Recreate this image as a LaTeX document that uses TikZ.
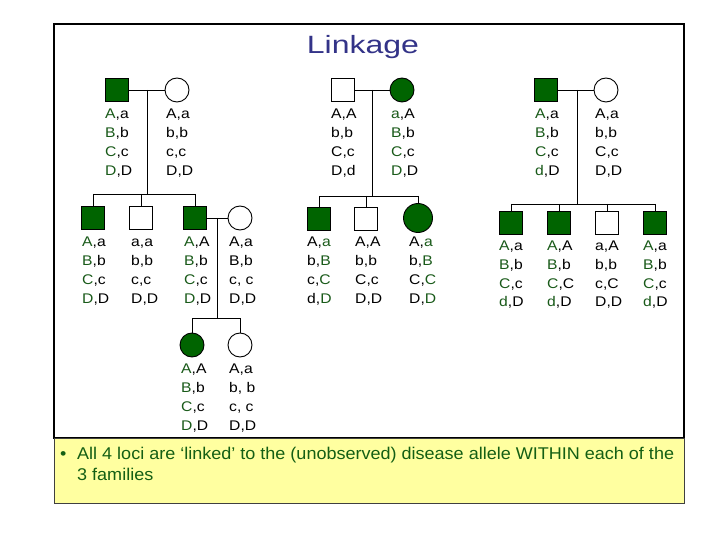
\documentclass[tikz,border=0pt]{standalone}
\usepackage{fontspec}
\setmainfont{Liberation Sans}
\newfontfamily\lblfont{Liberation Sans}[FakeStretch=1.12]
\newfontfamily\ttlfont{Liberation Sans}[FakeStretch=1.28]
\newfontfamily\notefont{Liberation Sans}[FakeStretch=1.06]
\definecolor{dkfill}{RGB}{0,100,0}
\definecolor{dktxt}{RGB}{25,90,25}
\definecolor{ttlblue}{RGB}{51,51,136}
\definecolor{notebg}{RGB}{255,255,160}
\definecolor{notetxt}{RGB}{20,95,20}
\newcommand{\grn}[1]{\textcolor{dktxt}{#1}}
\newcommand{\geno}[4]{\vtop{\hbox{#1}\hbox{#2}\hbox{#3}\hbox{#4}}}
\begin{document}
\begin{tikzpicture}[x=1pt,y=-1pt,
  lbl/.style={font=\lblfont\fontsize{14}{19}\selectfont, inner sep=0, anchor=base west},
  sq/.style={rectangle, draw, line width=0.9pt, minimum size=23.5, inner sep=0},
  ci/.style={circle, draw, line width=0.9pt, minimum size=24, inner sep=0},
  aff/.style={fill=dkfill},
  ln/.style={line width=0.9pt}]
\useasboundingbox (0,0) rectangle (720,540);
\fill[white] (0,0) rectangle (720,540);
% frame and note box
\draw[line width=1.3pt] (54,24) rectangle (684,438);
\node (title) [font=\ttlfont\fontsize{25}{30}\selectfont, text=ttlblue, anchor=base, inner sep=0] at (363,54) {Linkage};
\draw[fill=notebg, draw=black!75, line width=1pt] (54,438) rectangle (684,503);
\node (bul) [font=\notefont\fontsize{17}{21}\selectfont, text=notetxt, anchor=base west, inner sep=0] at (60,459) {\textbullet};
\node (note) [font=\notefont\fontsize{17}{21}\selectfont, text=notetxt, anchor=base west, inner sep=0] at (77,459) {\vtop{\hbox{All 4 loci are ‘linked’ to the (unobserved) disease allele WITHIN each of the}\hbox{3 families}}};

% ---------- Family 1 ----------
\node (f1p) [sq, aff] at (117,90) {};
\node (f1m) [ci] at (177,90) {};
\node (c11) [sq, aff] at (93,218) {};
\node (c12) [sq] at (141,218) {};
\node (c13) [sq, aff] at (195,218) {};
\node (s13) [ci] at (240,218) {};
\node (g1) [ci, aff] at (192,345) {};
\node (g2) [ci] at (240,345) {};
\coordinate (j1) at (147,90);
\coordinate (b1) at (147,194);
\coordinate (b1l) at (93,194);
\coordinate (b1r) at (195,194);
\coordinate (j2) at (217,218);
\coordinate (b2) at (217,318);
\coordinate (b2l) at (192,318);
\coordinate (b2r) at (240,318);
\draw[ln] (f1p.east) -- (f1m.west);
\draw[ln] (j1) -- (b1);
\draw[ln] (b1l) -- (b1r);
\draw[ln] (b1l) -- (c11.north);
\draw[ln] (c12.north |- b1) -- (c12.north);
\draw[ln] (b1r) -- (c13.north);
\draw[ln] (c13.east) -- (s13.west);
\draw[ln] (j2) -- (b2);
\draw[ln] (b2l) -- (b2r);
\draw[ln] (b2l) -- (g1.north);
\draw[ln] (b2r) -- (g2.north);
\node (t1p) [lbl] at (105,119) {\geno{\grn{A},a}{\grn{B},b}{\grn{C},c}{\grn{D},D}};
\node (t1m) [lbl] at (166,119) {\geno{A,a}{b,b}{c,c}{D,D}};
\node (t11) [lbl] at (82,246) {\geno{\grn{A},a}{\grn{B},b}{\grn{C},c}{\grn{D},D}};
\node (t12) [lbl] at (131,246) {\geno{a,a}{b,b}{c,c}{D,D}};
\node (t13) [lbl] at (184,246) {\geno{\grn{A},A}{\grn{B},b}{\grn{C},c}{\grn{D},D}};
\node (t1s) [lbl] at (229,246) {\geno{A,a}{B,b}{c, c}{D,D}};
\node (tg1) [lbl] at (181,373) {\geno{\grn{A},A}{\grn{B},b}{\grn{C},c}{\grn{D},D}};
\node (tg2) [lbl] at (229,373) {\geno{A,a}{b, b}{c, c}{D,D}};

% ---------- Family 2 ----------
\node (f2p) [sq] at (343,90) {};
\node (f2m) [ci, aff] at (402,90) {};
\node (c21) [sq, aff] at (319,219) {};
\node (c22) [sq] at (366,219) {};
\node (c23) [ci, aff, minimum size=29] at (418,218) {};
\coordinate (j3) at (372,90);
\coordinate (b3) at (372,196);
\coordinate (b3l) at (319,196);
\coordinate (b3r) at (418,196);
\draw[ln] (f2p.east) -- (f2m.west);
\draw[ln] (j3) -- (b3);
\draw[ln] (b3l) -- (b3r);
\draw[ln] (b3l) -- (c21.north);
\draw[ln] (c22.north |- b3) -- (c22.north);
\draw[ln] (b3r) -- (c23.north);
\node (t2p) [lbl] at (331,119) {\geno{A,A}{b,b}{C,c}{D,d}};
\node (t2m) [lbl] at (391,119) {\geno{\grn{a},A}{\grn{B},b}{\grn{C},c}{\grn{D},D}};
\node (t21) [lbl] at (307,247) {\geno{A,\grn{a}}{b,\grn{B}}{c,\grn{C}}{d,\grn{D}}};
\node (t22) [lbl] at (355,247) {\geno{A,A}{b,b}{C,c}{D,D}};
\node (t23) [lbl] at (409,247) {\geno{A,\grn{a}}{b,\grn{B}}{C,\grn{C}}{D,\grn{D}}};

% ---------- Family 3 ----------
\node (f3p) [sq, aff] at (546,90) {};
\node (f3m) [ci] at (606,90) {};
\node (c31) [sq, aff] at (511,223) {};
\node (c32) [sq, aff] at (559,223) {};
\node (c33) [sq] at (607,223) {};
\node (c34) [sq, aff] at (655,223) {};
\coordinate (j4) at (577,90);
\coordinate (b4) at (577,204);
\coordinate (b4l) at (511,204);
\coordinate (b4r) at (655,204);
\draw[ln] (f3p.east) -- (f3m.west);
\draw[ln] (j4) -- (b4);
\draw[ln] (b4l) -- (b4r);
\draw[ln] (b4l) -- (c31.north);
\draw[ln] (c32.north |- b4) -- (c32.north);
\draw[ln] (c33.north |- b4) -- (c33.north);
\draw[ln] (b4r) -- (c34.north);
\node (t3p) [lbl] at (535,119) {\geno{\grn{A},a}{\grn{B},b}{\grn{C},c}{\grn{d},D}};
\node (t3m) [lbl] at (595,119) {\geno{A,a}{b,b}{C,c}{D,D}};
\node (t31) [lbl] at (499,250) {\geno{\grn{A},a}{\grn{B},b}{\grn{C},c}{\grn{d},D}};
\node (t32) [lbl] at (547,250) {\geno{\grn{A},A}{\grn{B},b}{\grn{C},C}{\grn{d},D}};
\node (t33) [lbl] at (595,250) {\geno{a,A}{b,b}{c,C}{D,D}};
\node (t34) [lbl] at (643,250) {\geno{\grn{A},a}{\grn{B},b}{\grn{C},c}{\grn{d},D}};
\end{tikzpicture}
\end{document}
